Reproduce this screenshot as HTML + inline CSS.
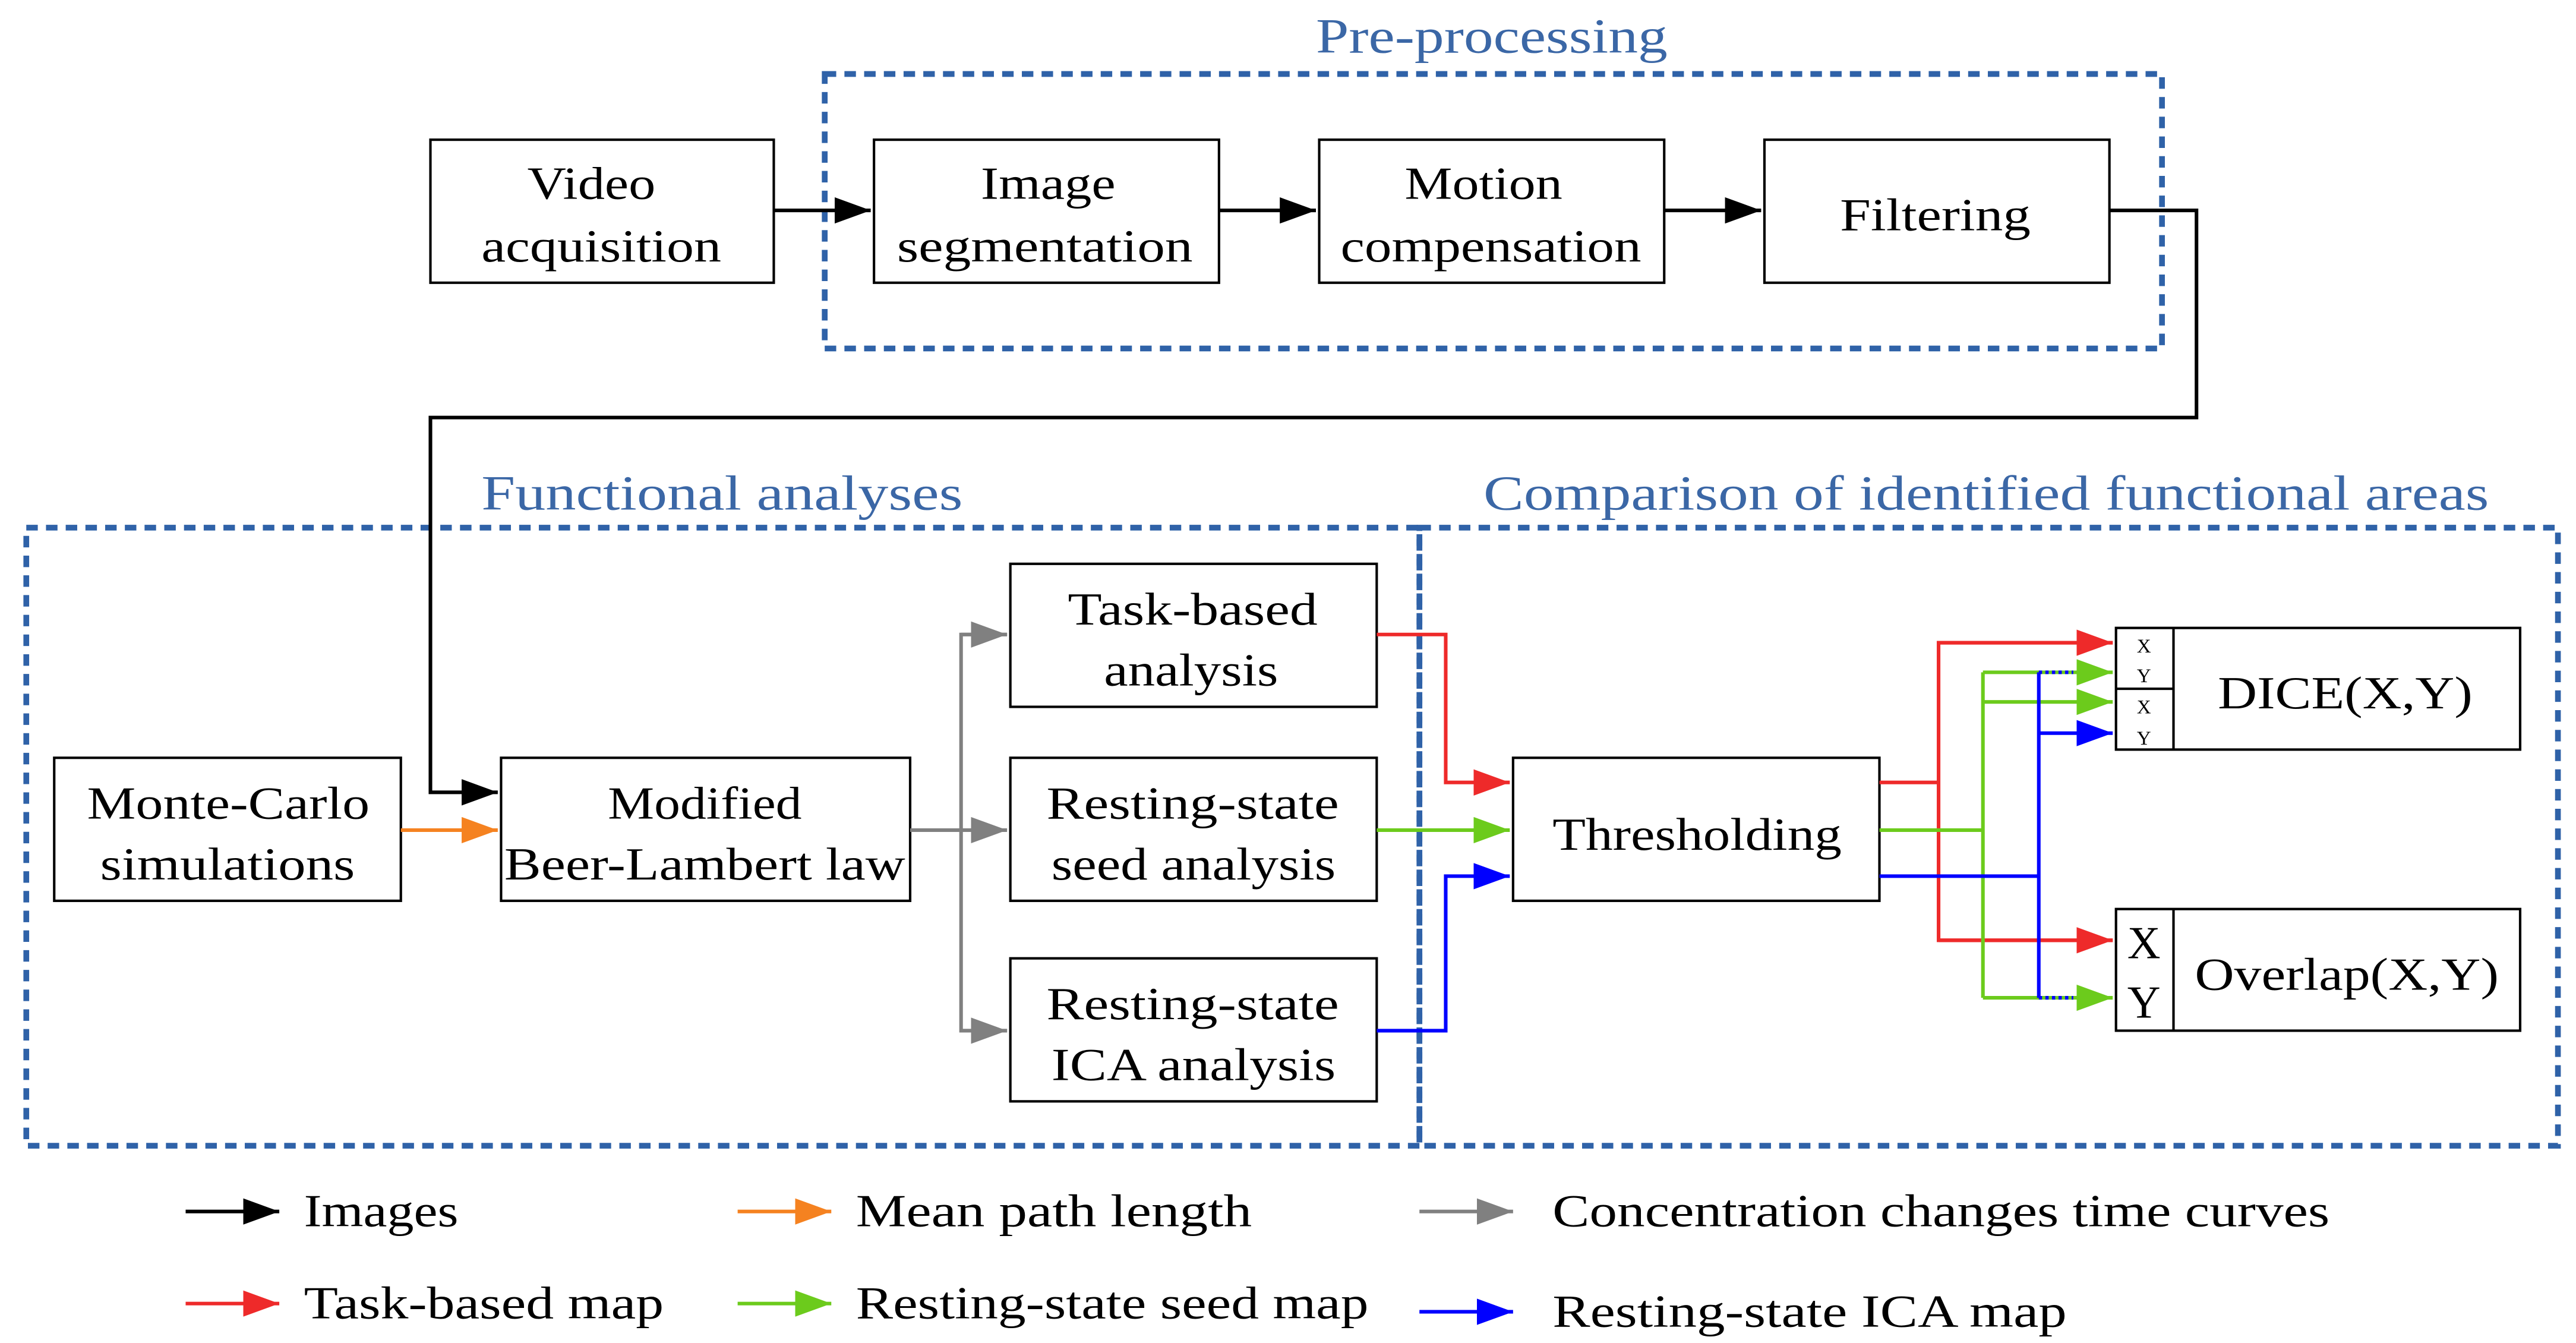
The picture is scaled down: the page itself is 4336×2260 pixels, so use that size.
<!DOCTYPE html>
<html><head><style>html,body{margin:0;padding:0;background:#fff}svg{display:block}</style></head><body>
<svg width="4336" height="2260" viewBox="0 0 1568 817" preserveAspectRatio="none" xmlns="http://www.w3.org/2000/svg" font-family="Liberation Serif, serif">
<defs>
<marker id="k" markerWidth="22" markerHeight="16" refX="22" refY="8" orient="auto" markerUnits="userSpaceOnUse"><path d="M0,0L22,8L0,16z" fill="#000"/></marker>
<marker id="o" markerWidth="22" markerHeight="16" refX="22" refY="8" orient="auto" markerUnits="userSpaceOnUse"><path d="M0,0L22,8L0,16z" fill="#f58220"/></marker>
<marker id="g" markerWidth="22" markerHeight="16" refX="22" refY="8" orient="auto" markerUnits="userSpaceOnUse"><path d="M0,0L22,8L0,16z" fill="#808080"/></marker>
<marker id="r" markerWidth="22" markerHeight="16" refX="22" refY="8" orient="auto" markerUnits="userSpaceOnUse"><path d="M0,0L22,8L0,16z" fill="#ee2a2a"/></marker>
<marker id="gr" markerWidth="22" markerHeight="16" refX="22" refY="8" orient="auto" markerUnits="userSpaceOnUse"><path d="M0,0L22,8L0,16z" fill="#6ccb1c"/></marker>
<marker id="b" markerWidth="22" markerHeight="16" refX="22" refY="8" orient="auto" markerUnits="userSpaceOnUse"><path d="M0,0L22,8L0,16z" fill="#0000ff"/></marker>
</defs>
<g fill="none" stroke="#2f62a8" stroke-width="3.5" stroke-dasharray="7,5">
<rect x="502" y="45" width="814" height="167"/>
<rect x="16" y="321" width="848" height="376"/>
<rect x="864" y="321" width="693" height="376"/>
</g>
<g fill="#3b67a6" font-size="30" lengthAdjust="spacingAndGlyphs">
<text x="801" y="32" textLength="214" lengthAdjust="spacingAndGlyphs">Pre-processing</text>
<text x="293" y="310" textLength="293" lengthAdjust="spacingAndGlyphs">Functional analyses</text>
<text x="903" y="310" textLength="612" lengthAdjust="spacingAndGlyphs">Comparison of identified functional areas</text>
</g>
<g fill="#fff" stroke="#000" stroke-width="1.5">
<rect x="262" y="85" width="209" height="87"/>
<rect x="532" y="85" width="210" height="87"/>
<rect x="803" y="85" width="210" height="87"/>
<rect x="1074" y="85" width="210" height="87"/>
<rect x="33" y="461" width="211" height="87"/>
<rect x="305" y="461" width="249" height="87"/>
<rect x="615" y="343" width="223" height="87"/>
<rect x="615" y="461" width="223" height="87"/>
<rect x="615" y="583" width="223" height="87"/>
<rect x="921" y="461" width="223" height="87"/>
<rect x="1288" y="382" width="246" height="74"/>
<rect x="1288" y="553" width="246" height="74"/>
</g>
<g stroke="#000" stroke-width="1.5"><line x1="1323" y1="382" x2="1323" y2="456"/><line x1="1288" y1="419" x2="1323" y2="419"/><line x1="1323" y1="553" x2="1323" y2="627"/></g>
<g font-size="28" fill="#000">
<text x="321" y="121" textLength="78" lengthAdjust="spacingAndGlyphs">Video</text><text x="293" y="159" textLength="146" lengthAdjust="spacingAndGlyphs">acquisition</text>
<text x="597" y="121" textLength="82" lengthAdjust="spacingAndGlyphs">Image</text><text x="546" y="159" textLength="180" lengthAdjust="spacingAndGlyphs">segmentation</text>
<text x="855" y="121" textLength="96" lengthAdjust="spacingAndGlyphs">Motion</text><text x="816" y="159" textLength="183" lengthAdjust="spacingAndGlyphs">compensation</text>
<text x="1120" y="140" textLength="116" lengthAdjust="spacingAndGlyphs">Filtering</text>
<text x="53" y="498" textLength="172" lengthAdjust="spacingAndGlyphs">Monte-Carlo</text><text x="61" y="535" textLength="155" lengthAdjust="spacingAndGlyphs">simulations</text>
<text x="370" y="498" textLength="118" lengthAdjust="spacingAndGlyphs">Modified</text><text x="307" y="535" textLength="244" lengthAdjust="spacingAndGlyphs">Beer-Lambert law</text>
<text x="650" y="380" textLength="152" lengthAdjust="spacingAndGlyphs">Task-based</text><text x="672" y="417" textLength="106" lengthAdjust="spacingAndGlyphs">analysis</text>
<text x="637" y="498" textLength="178" lengthAdjust="spacingAndGlyphs">Resting-state</text><text x="640" y="535" textLength="173" lengthAdjust="spacingAndGlyphs">seed analysis</text>
<text x="637" y="620" textLength="178" lengthAdjust="spacingAndGlyphs">Resting-state</text><text x="640" y="657" textLength="173" lengthAdjust="spacingAndGlyphs">ICA analysis</text>
<text x="945" y="517" textLength="176" lengthAdjust="spacingAndGlyphs">Thresholding</text>
<text x="1350" y="431" textLength="155" lengthAdjust="spacingAndGlyphs">DICE(X,Y)</text>
<text x="1336" y="602" textLength="185" lengthAdjust="spacingAndGlyphs">Overlap(X,Y)</text>
<g text-anchor="middle"><text x="1305" y="583">X</text><text x="1305" y="619">Y</text>
<g font-size="12"><text x="1305" y="397">X</text><text x="1305" y="415">Y</text><text x="1305" y="434">X</text><text x="1305" y="453">Y</text></g></g>
</g>
<g fill="none" stroke-width="2.2">
<g stroke="#000"><line x1="471" y1="128" x2="530" y2="128" marker-end="url(#k)"/><line x1="742" y1="128" x2="801" y2="128" marker-end="url(#k)"/><line x1="1013" y1="128" x2="1072" y2="128" marker-end="url(#k)"/>
<polyline points="1284,128 1337,128 1337,254 262,254 262,482 303,482" marker-end="url(#k)"/></g>
<line x1="244" y1="505" x2="303" y2="505" stroke="#f58220" marker-end="url(#o)"/>
<g stroke="#808080"><line x1="554" y1="505" x2="613" y2="505" marker-end="url(#g)"/><polyline points="613,386 585,386 585,627 613,627"/><line x1="585" y1="386" x2="613" y2="386" marker-end="url(#g)"/><line x1="585" y1="627" x2="613" y2="627" marker-end="url(#g)"/></g>
<polyline points="838,386 880,386 880,476 919,476" stroke="#ee2a2a" marker-end="url(#r)"/>
<line x1="838" y1="505" x2="919" y2="505" stroke="#6ccb1c" marker-end="url(#gr)"/>
<polyline points="838,627 880,627 880,533 919,533" stroke="#0000ff" marker-end="url(#b)"/>
<g stroke="#ee2a2a"><line x1="1144" y1="476" x2="1180" y2="476"/><polyline points="1286,391 1180,391 1180,572 1286,572"/><line x1="1180" y1="391" x2="1286" y2="391" marker-end="url(#r)"/><line x1="1180" y1="572" x2="1286" y2="572" marker-end="url(#r)"/></g>
<g stroke="#6ccb1c"><line x1="1144" y1="505" x2="1207" y2="505"/><line x1="1207" y1="409" x2="1207" y2="607"/><line x1="1207" y1="409" x2="1286" y2="409" marker-end="url(#gr)"/><line x1="1207" y1="427" x2="1286" y2="427" marker-end="url(#gr)"/><line x1="1207" y1="607" x2="1286" y2="607" marker-end="url(#gr)"/></g>
<g stroke="#0000ff"><line x1="1144" y1="533" x2="1241" y2="533"/><line x1="1241" y1="409" x2="1241" y2="607"/><line x1="1241" y1="446" x2="1286" y2="446" marker-end="url(#b)"/>
<line x1="1241" y1="409" x2="1262" y2="409" stroke-dasharray="2,2"/><line x1="1241" y1="607" x2="1262" y2="607" stroke-dasharray="2,2"/></g>
<line x1="113" y1="737" x2="170" y2="737" stroke="#000" marker-end="url(#k)"/>
<line x1="449" y1="737" x2="506" y2="737" stroke="#f58220" marker-end="url(#o)"/>
<line x1="864" y1="737" x2="921" y2="737" stroke="#808080" marker-end="url(#g)"/>
<line x1="113" y1="793" x2="170" y2="793" stroke="#ee2a2a" marker-end="url(#r)"/>
<line x1="449" y1="793" x2="506" y2="793" stroke="#6ccb1c" marker-end="url(#gr)"/>
<line x1="864" y1="798" x2="921" y2="798" stroke="#0000ff" marker-end="url(#b)"/>
</g>
<g font-size="28" fill="#000">
<text x="185" y="746" textLength="94" lengthAdjust="spacingAndGlyphs">Images</text><text x="521" y="746" textLength="241" lengthAdjust="spacingAndGlyphs">Mean path length</text><text x="945" y="746" textLength="473" lengthAdjust="spacingAndGlyphs">Concentration changes time curves</text>
<text x="185" y="802" textLength="219" lengthAdjust="spacingAndGlyphs">Task-based map</text><text x="521" y="802" textLength="312" lengthAdjust="spacingAndGlyphs">Resting-state seed map</text><text x="945" y="807" textLength="313" lengthAdjust="spacingAndGlyphs">Resting-state ICA map</text>
</g>
</svg>
</body></html>
